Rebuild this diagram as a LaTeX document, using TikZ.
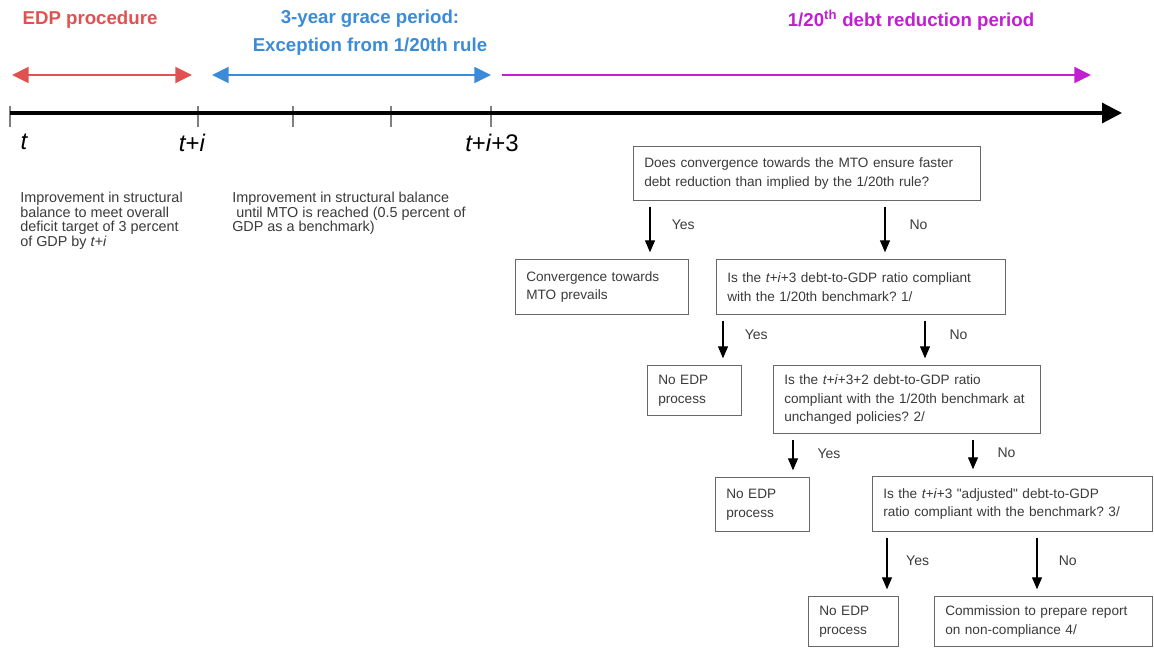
\documentclass[tikz,border=0pt]{standalone}
\usepackage{fontspec}
\setmainfont{Liberation Sans}[Ligatures=TeXOff]
\usepackage{tikz}
\usetikzlibrary{arrows.meta}
\frenchspacing
\definecolor{edpred}{HTML}{E05252}
\definecolor{graceblue}{HTML}{3C8BD6}
\definecolor{debtmagenta}{HTML}{C020D0}
\definecolor{boxtext}{HTML}{3A3A3A}
\definecolor{boxline}{HTML}{686868}
\tikzset{
  qbox/.style 2 args={draw=boxline, line width=0.9pt, anchor=north west,
    inner xsep=8pt, inner ysep=0pt, align=left, text=boxtext,
    font=\fontsize{10.2}{14}\selectfont,
    text width=#1, minimum width=#1+16pt, minimum height=#2},
  note/.style={anchor=north west, inner sep=0pt, align=left, text=boxtext,
    font=\fontsize{10.8}{10.9}\selectfont},
  title/.style={inner sep=0pt, font=\bfseries\fontsize{14}{21}\selectfont},
  tlabel/.style={inner sep=0pt, anchor=north, font=\itshape\fontsize{18}{20}\selectfont},
  lbl/.style={inner sep=0pt, text=boxtext, font=\fontsize{10.5}{12}\selectfont},
  flow/.style={-{Triangle[length=9pt,width=7.5pt]}, line width=0.8pt,
    shorten <=4pt, shorten >=5pt},
  period/.style={line width=1.5pt, {Triangle[length=12.5pt,width=12pt]}-{Triangle[length=12.5pt,width=12pt]}},
  onehead/.style={line width=1.5pt, -{Triangle[length=12.5pt,width=12pt]}},
  tick/.style={draw=gray, line width=0.8pt}
}
\begin{document}
\begin{tikzpicture}[x=0.75pt, y=-0.75pt]
\useasboundingbox (0,0) rectangle (1154,648);

% period headings
\node[title, text=edpred] (edptitle) at (90,20) {EDP procedure};
\node[title, text=graceblue, align=center] (gracetitle) at (370,33) {3-year grace period:\\Exception from 1/20th rule};
\node[title, text=debtmagenta] (debttitle) at (911,20) {1/20\textsuperscript{th} debt reduction period};

% period arrows
\coordinate (edpL) at (12,75);
\coordinate (edpR) at (192,75);
\coordinate (graceL) at (212,75);
\coordinate (graceR) at (491,75);
\coordinate (debtL) at (502,75);
\coordinate (debtR) at (1091,75);
\draw[period, draw=edpred, fill=edpred] (edpL) -- (edpR);
\draw[period, draw=graceblue, fill=graceblue] (graceL) -- (graceR);
\draw[onehead, draw=debtmagenta, fill=debtmagenta] (debtL) -- (debtR);

% time axis
\foreach \x in {10,198,293,391,491}
  \draw[tick] (\x,106) -- (\x,127);
\coordinate (axisstart) at (10,113);
\coordinate (axisend) at (1122,113);
\draw[line width=2.4pt, -{Triangle[length=15pt,width=15pt]}] (axisstart) -- (axisend);
\node[tlabel] (tzero) at (24,134) {t};
\node[tlabel] (tgrace) at (192,134) {t\upshape+\itshape i};
\node[tlabel] (tdebt) at (492,134) {t\upshape+\itshape i\upshape+3};

% notes under the axis
\node[note] (edpnote) at (20,192) {Improvement in structural\\balance to meet overall\\deficit target of 3 percent\\of GDP by \textit{t+i}};
\node[note] (gracenote) at (232,192) {Improvement in structural balance\\\hspace{3pt}until MTO is reached (0.5 percent of\\GDP as a benchmark)};

% decision boxes
\node[qbox={244pt}{40.5pt}] (mtoq) at (633,146) {Does convergence towards the MTO ensure faster\\debt reduction than implied by the 1/20th rule?};
\node[qbox={113.75pt}{41.25pt}] (conv) at (515,259) {Convergence towards\\MTO prevails};
\node[qbox={200.75pt}{41.25pt}] (ratioq) at (716,259) {Is the \textit{t+i}+3 debt-to-GDP ratio compliant\\with the 1/20th benchmark? 1/};
\node[qbox={54.5pt}{37.5pt}] (noedpa) at (647,365) {No EDP\\process};
\node[qbox={184.25pt}{51pt}] (policyq) at (773,365) {Is the \textit{t+i}+3+2 debt-to-GDP ratio\\compliant with the 1/20th benchmark at\\unchanged policies? 2/};
\node[qbox={54.5pt}{40.5pt}] (noedpb) at (715,477) {No EDP\\process};
\node[qbox={194pt}{41.25pt}] (adjq) at (872,476) {Is the \textit{t+i}+3 "adjusted" debt-to-GDP\\ratio compliant with the benchmark? 3/};
\node[qbox={51.5pt}{37.5pt}] (noedpc) at (808,596) {No EDP\\process};
\node[qbox={147.5pt}{37.5pt}] (report) at (934,596) {Commission to prepare report\\on non-compliance 4/};

% yes / no arrows
\draw[flow] (mtoq.south -| 650,0) -- node[lbl, pos=0.4, right=16pt] (y1) {Yes} (conv.north -| 650,0);
\draw[flow] (mtoq.south -| 885,0) -- node[lbl, pos=0.4, right=18pt] (n1) {No} (ratioq.north -| 885,0);
\draw[flow] (ratioq.south -| 723,0) -- node[lbl, pos=0.4, right=16pt] (y2) {Yes} (noedpa.north -| 723,0);
\draw[flow] (ratioq.south -| 925,0) -- node[lbl, pos=0.4, right=18pt] (n2) {No} (policyq.north -| 925,0);
\draw[flow] (policyq.south -| 793,0) -- node[lbl, pos=0.45, right=18pt] (y3) {Yes} (noedpb.north -| 793,0);
\draw[flow] (policyq.south -| 973,0) -- node[lbl, pos=0.45, right=18pt] (n3) {No} (adjq.north -| 973,0);
\draw[flow] (adjq.south -| 887,0) -- node[lbl, pos=0.45, right=14pt] (y4) {Yes} (noedpc.north -| 887,0);
\draw[flow] (adjq.south -| 1037,0) -- node[lbl, pos=0.45, right=16pt] (n4) {No} (report.north -| 1037,0);
\end{tikzpicture}
\end{document}
